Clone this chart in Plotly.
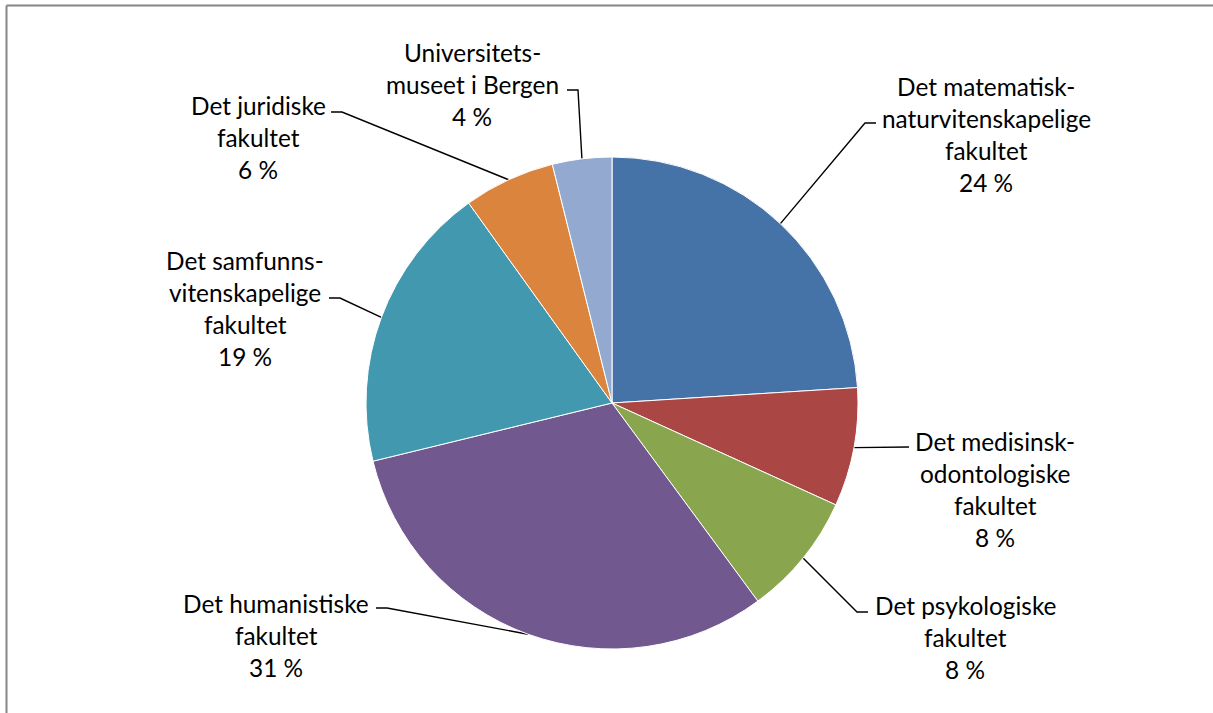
import math
import plotly.graph_objects as go

# ---- data ----
categories = [
    "Det matematisk-naturvitenskapelige fakultet",
    "Det medisinsk-odontologiske fakultet",
    "Det psykologiske fakultet",
    "Det humanistiske fakultet",
    "Det samfunnsvitenskapelige fakultet",
    "Det juridiske fakultet",
    "Universitetsmuseet i Bergen",
]
label_lines = [
    ["Det matematisk-", "naturvitenskapelige", "fakultet"],
    ["Det medisinsk-", "odontologiske", "fakultet"],
    ["Det psykologiske", "fakultet"],
    ["Det humanistiske", "fakultet"],
    ["Det samfunns-", "vitenskapelige", "fakultet"],
    ["Det juridiske", "fakultet"],
    ["Universitets-", "museet i Bergen"],
]
values = [24.0, 7.8, 8.1, 31.3, 18.9, 6.0, 3.9]

colors = ["#4572A7", "#AA4643", "#89A54E", "#71588F", "#4198AF", "#DB843D", "#93A9CF"]

# ---- layout constants (pixels) ----
W, H = 1213, 713
CX, CY, R = 612, 403, 246
FONT = "Lato, 'Open Sans', sans-serif"
FS = 24.4
LINE_H = 32
# label block: (center x, first line y center), leader elbow (x, y), horizontal stub direction
label_pos = [
    (986, 86, (865, 123), 1),
    (995, 441, (898, 447), 1),
    (965, 605, (857, 612), 1),
    (276, 603, (387, 608), -1),
    (245, 260, (340, 298), -1),
    (258, 105, (342, 112), -1),
    (472, 52, (578, 90), -1),
]

total = sum(values)
fig = go.Figure()

fig.add_trace(go.Pie(
    labels=categories,
    values=values,
    sort=False,
    direction="clockwise",
    rotation=0,
    textinfo="none",
    hoverinfo="label+percent",
    marker=dict(colors=colors, line=dict(color="white", width=1)),
    domain=dict(x=[(CX - R) / W, (CX + R) / W], y=[(H - CY - R) / H, (H - CY + R) / H]),
    showlegend=False,
))

cum = 0.0
for i, v in enumerate(values):
    mid = (cum + v / 2) / total * 2 * math.pi
    cum += v
    px = CX + R * math.sin(mid)
    py = CY - R * math.cos(mid)
    lx, ly, (ex, ey), d = label_pos[i]
    stub = ex + 11 * d
    fig.add_trace(go.Scatter(
        x=[px, ex, stub], y=[py, ey, ey], mode="lines",
        line=dict(color="black", width=1.4), hoverinfo="skip", showlegend=False,
    ))
    pct = f"{round(v / total * 100)} %"
    lines = label_lines[i] + [pct]
    for k, t in enumerate(lines):
        fig.add_annotation(
            x=lx, y=ly + k * LINE_H, xref="x", yref="y", text=t, showarrow=False,
            xanchor="center", yanchor="middle",
            font=dict(family=FONT, size=FS, color="black"),
        )

# chart-area border (only top and left edges are inside the picture)
border = dict(color="#868686", width=2)
fig.add_shape(type="line", xref="paper", yref="paper", x0=6.5 / W, x1=1.0,
              y0=1 - 5.5 / H, y1=1 - 5.5 / H, line=border, layer="above")
fig.add_shape(type="line", xref="paper", yref="paper", x0=6.5 / W, x1=6.5 / W,
              y0=0.0, y1=1 - 5.5 / H, line=border, layer="above")

fig.update_layout(
    width=W, height=H,
    margin=dict(l=0, r=0, t=0, b=0),
    paper_bgcolor="white", plot_bgcolor="rgba(0,0,0,0)",
    xaxis=dict(range=[0, W], visible=False, fixedrange=True),
    yaxis=dict(range=[H, 0], visible=False, fixedrange=True),
    showlegend=False,
)

fig.write_html(
    "out.html",
    config={"displayModeBar": False, "responsive": False},
    post_script=(
        "document.documentElement.style.margin='0';"
        "document.documentElement.style.overflow='hidden';"
        "document.body.style.margin='0';document.body.style.overflow='hidden';"
    ),
)
